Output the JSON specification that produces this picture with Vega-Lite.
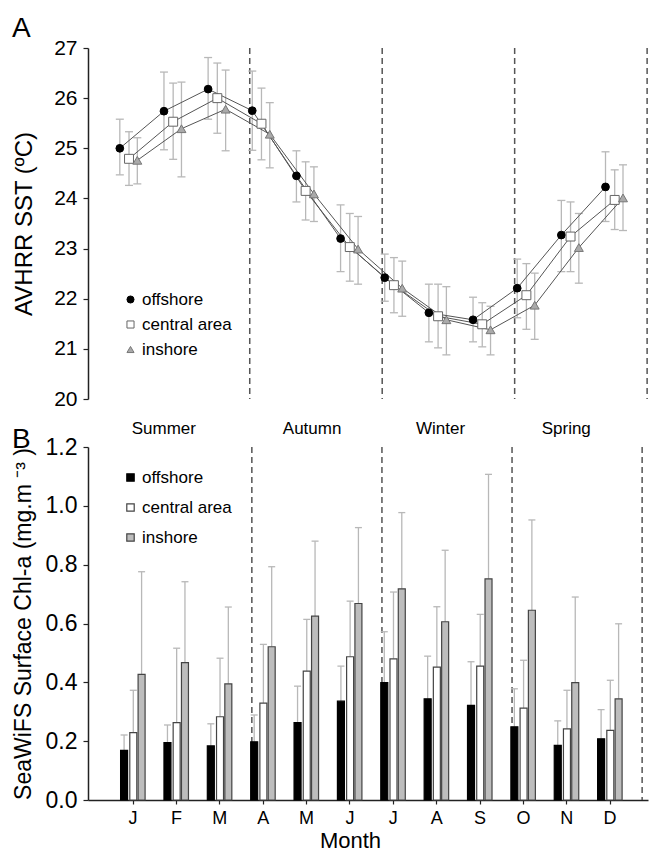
{
  "$schema": "https://vega.github.io/schema/vega-lite/v6.json",
  "background": "white",
  "padding": {"left": 12, "top": 15, "right": 3, "bottom": 0},
  "spacing": 11,
  "config": {
    "view": {"stroke": null},
    "font": "Liberation Sans",
    "axis": {"grid": false, "domainColor": "#222", "tickColor": "#222", "labelColor": "black", "titleColor": "black", "labelFont": "Liberation Sans", "titleFont": "Liberation Sans", "titleFontWeight": "normal", "domainWidth": 1.5, "tickWidth": 1.2},
    "legend": {"labelFont": "Liberation Sans", "labelFontSize": 17, "labelColor": "black"},
    "title": {"font": "Liberation Sans", "fontWeight": "normal", "color": "black"}
  },
  "datasets": {
    "sst": [
      {"month": 1, "site": "offshore", "mean": 25.00, "lo": 24.47, "hi": 25.58},
      {"month": 2, "site": "offshore", "mean": 25.74, "lo": 24.97, "hi": 26.52},
      {"month": 3, "site": "offshore", "mean": 26.18, "lo": 25.58, "hi": 26.81},
      {"month": 4, "site": "offshore", "mean": 25.75, "lo": 24.96, "hi": 26.54},
      {"month": 5, "site": "offshore", "mean": 24.45, "lo": 23.93, "hi": 24.95},
      {"month": 6, "site": "offshore", "mean": 23.20, "lo": 22.54, "hi": 23.87},
      {"month": 7, "site": "offshore", "mean": 22.42, "lo": 21.95, "hi": 22.89},
      {"month": 8, "site": "offshore", "mean": 21.72, "lo": 21.14, "hi": 22.29},
      {"month": 9, "site": "offshore", "mean": 21.58, "lo": 21.14, "hi": 22.03},
      {"month": 10, "site": "offshore", "mean": 22.21, "lo": 21.62, "hi": 22.79},
      {"month": 11, "site": "offshore", "mean": 23.27, "lo": 22.54, "hi": 23.96},
      {"month": 12, "site": "offshore", "mean": 24.23, "lo": 23.54, "hi": 24.93},
      {"month": 1, "site": "central area", "mean": 24.79, "lo": 24.26, "hi": 25.33},
      {"month": 2, "site": "central area", "mean": 25.53, "lo": 24.78, "hi": 26.30},
      {"month": 3, "site": "central area", "mean": 26.00, "lo": 25.30, "hi": 26.70},
      {"month": 4, "site": "central area", "mean": 25.49, "lo": 24.77, "hi": 26.20},
      {"month": 5, "site": "central area", "mean": 24.15, "lo": 23.57, "hi": 24.73},
      {"month": 6, "site": "central area", "mean": 23.03, "lo": 22.35, "hi": 23.70},
      {"month": 7, "site": "central area", "mean": 22.27, "lo": 21.72, "hi": 22.82},
      {"month": 8, "site": "central area", "mean": 21.65, "lo": 21.02, "hi": 22.29},
      {"month": 9, "site": "central area", "mean": 21.49, "lo": 21.04, "hi": 21.92},
      {"month": 10, "site": "central area", "mean": 22.07, "lo": 21.39, "hi": 22.70},
      {"month": 11, "site": "central area", "mean": 23.24, "lo": 22.54, "hi": 23.93},
      {"month": 12, "site": "central area", "mean": 23.97, "lo": 23.38, "hi": 24.57},
      {"month": 1, "site": "inshore", "mean": 24.76, "lo": 24.29, "hi": 25.21},
      {"month": 2, "site": "inshore", "mean": 25.39, "lo": 24.43, "hi": 26.32},
      {"month": 3, "site": "inshore", "mean": 25.78, "lo": 24.95, "hi": 26.56},
      {"month": 4, "site": "inshore", "mean": 25.28, "lo": 24.61, "hi": 25.91},
      {"month": 5, "site": "inshore", "mean": 24.09, "lo": 23.54, "hi": 24.63},
      {"month": 6, "site": "inshore", "mean": 22.99, "lo": 22.29, "hi": 23.64},
      {"month": 7, "site": "inshore", "mean": 22.21, "lo": 21.65, "hi": 22.75},
      {"month": 8, "site": "inshore", "mean": 21.58, "lo": 20.88, "hi": 22.24},
      {"month": 9, "site": "inshore", "mean": 21.38, "lo": 20.88, "hi": 21.85},
      {"month": 10, "site": "inshore", "mean": 21.87, "lo": 21.19, "hi": 22.51},
      {"month": 11, "site": "inshore", "mean": 23.02, "lo": 22.31, "hi": 23.70},
      {"month": 12, "site": "inshore", "mean": 24.01, "lo": 23.36, "hi": 24.67}
    ],
    "chl": [
      {"month": 1, "site": "offshore", "mean": 0.169, "hi": 0.221},
      {"month": 2, "site": "offshore", "mean": 0.195, "hi": 0.255},
      {"month": 3, "site": "offshore", "mean": 0.184, "hi": 0.259},
      {"month": 4, "site": "offshore", "mean": 0.198, "hi": 0.289},
      {"month": 5, "site": "offshore", "mean": 0.263, "hi": 0.387},
      {"month": 6, "site": "offshore", "mean": 0.336, "hi": 0.455},
      {"month": 7, "site": "offshore", "mean": 0.399, "hi": 0.572},
      {"month": 8, "site": "offshore", "mean": 0.344, "hi": 0.489},
      {"month": 9, "site": "offshore", "mean": 0.322, "hi": 0.470},
      {"month": 10, "site": "offshore", "mean": 0.249, "hi": 0.378},
      {"month": 11, "site": "offshore", "mean": 0.186, "hi": 0.269},
      {"month": 12, "site": "offshore", "mean": 0.208, "hi": 0.307},
      {"month": 1, "site": "central area", "mean": 0.229, "hi": 0.373},
      {"month": 2, "site": "central area", "mean": 0.263, "hi": 0.516},
      {"month": 3, "site": "central area", "mean": 0.283, "hi": 0.482},
      {"month": 4, "site": "central area", "mean": 0.329, "hi": 0.529},
      {"month": 5, "site": "central area", "mean": 0.438, "hi": 0.614},
      {"month": 6, "site": "central area", "mean": 0.487, "hi": 0.676},
      {"month": 7, "site": "central area", "mean": 0.480, "hi": 0.707},
      {"month": 8, "site": "central area", "mean": 0.452, "hi": 0.657},
      {"month": 9, "site": "central area", "mean": 0.455, "hi": 0.631},
      {"month": 10, "site": "central area", "mean": 0.312, "hi": 0.475},
      {"month": 11, "site": "central area", "mean": 0.242, "hi": 0.373},
      {"month": 12, "site": "central area", "mean": 0.237, "hi": 0.407},
      {"month": 1, "site": "inshore", "mean": 0.427, "hi": 0.776},
      {"month": 2, "site": "inshore", "mean": 0.467, "hi": 0.742},
      {"month": 3, "site": "inshore", "mean": 0.395, "hi": 0.656},
      {"month": 4, "site": "inshore", "mean": 0.521, "hi": 0.793},
      {"month": 5, "site": "inshore", "mean": 0.625, "hi": 0.880},
      {"month": 6, "site": "inshore", "mean": 0.668, "hi": 0.926},
      {"month": 7, "site": "inshore", "mean": 0.718, "hi": 0.977},
      {"month": 8, "site": "inshore", "mean": 0.606, "hi": 0.849},
      {"month": 9, "site": "inshore", "mean": 0.752, "hi": 1.107},
      {"month": 10, "site": "inshore", "mean": 0.645, "hi": 0.952},
      {"month": 11, "site": "inshore", "mean": 0.399, "hi": 0.690},
      {"month": 12, "site": "inshore", "mean": 0.344, "hi": 0.599}
    ],
    "bounds": [{"b": 3.75}, {"b": 6.75}, {"b": 9.75}, {"b": 12.75}],
    "seasons": [
      {"season": "Summer", "month": 1.72},
      {"season": "Autumn", "month": 5.14},
      {"season": "Winter", "month": 8.1},
      {"season": "Spring", "month": 11.0}
    ]
  },
  "vconcat": [
    {
      "width": 560,
      "height": 351,
      "title": {"text": "A", "anchor": "start", "frame": "group", "dx": -76, "fontSize": 28, "offset": -6},
      "data": {"name": "sst"},
      "layer": [
        {
          "data": {"name": "bounds"},
          "mark": {"type": "rule", "strokeDash": [6, 4], "color": "#555", "strokeWidth": 1.5},
          "encoding": {"x": {"field": "b", "type": "quantitative", "scale": {"domain": [0.087, 12.77], "nice": false, "zero": false}, "axis": null}}
        },
        {
          "transform": [{"filter": "datum.site == 'offshore'"}],
          "mark": {"type": "rule", "color": "#b8b8b8", "strokeWidth": 1.3, "xOffset": -8.5},
          "encoding": {
            "x": {"field": "month", "type": "quantitative"},
            "y": {"field": "lo", "type": "quantitative", "scale": {"domain": [20, 27], "nice": false, "zero": false},
              "axis": {"title": "AVHRR SST (ºC)", "titleFontSize": 24, "titlePadding": 17, "labelFontSize": 21, "labelPadding": 6, "tickSize": 5,
                "values": [20, 20.5, 21, 21.5, 22, 22.5, 23, 23.5, 24, 24.5, 25, 25.5, 26, 26.5, 27],
                "labelExpr": "datum.value % 1 == 0 ? datum.label : ''"}},
            "y2": {"field": "hi"}
          }
        },
        {
          "transform": [{"filter": "datum.site == 'central area'"}],
          "mark": {"type": "rule", "color": "#b8b8b8", "strokeWidth": 1.3, "xOffset": 0.7},
          "encoding": {"x": {"field": "month", "type": "quantitative"}, "y": {"field": "lo", "type": "quantitative"}, "y2": {"field": "hi"}}
        },
        {
          "transform": [{"filter": "datum.site == 'inshore'"}],
          "mark": {"type": "rule", "color": "#b8b8b8", "strokeWidth": 1.3, "xOffset": 9},
          "encoding": {"x": {"field": "month", "type": "quantitative"}, "y": {"field": "lo", "type": "quantitative"}, "y2": {"field": "hi"}}
        },
        {
          "transform": [{"filter": "datum.site == 'offshore'"}, {"fold": ["lo", "hi"], "as": ["k", "v"]}],
          "mark": {"type": "tick", "orient": "horizontal", "color": "#b8b8b8", "size": 8, "thickness": 1.3, "opacity": 1, "xOffset": -8.5},
          "encoding": {"x": {"field": "month", "type": "quantitative"}, "y": {"field": "v", "type": "quantitative"}}
        },
        {
          "transform": [{"filter": "datum.site == 'central area'"}, {"fold": ["lo", "hi"], "as": ["k", "v"]}],
          "mark": {"type": "tick", "orient": "horizontal", "color": "#b8b8b8", "size": 8, "thickness": 1.3, "opacity": 1, "xOffset": 0.7},
          "encoding": {"x": {"field": "month", "type": "quantitative"}, "y": {"field": "v", "type": "quantitative"}}
        },
        {
          "transform": [{"filter": "datum.site == 'inshore'"}, {"fold": ["lo", "hi"], "as": ["k", "v"]}],
          "mark": {"type": "tick", "orient": "horizontal", "color": "#b8b8b8", "size": 8, "thickness": 1.3, "opacity": 1, "xOffset": 9},
          "encoding": {"x": {"field": "month", "type": "quantitative"}, "y": {"field": "v", "type": "quantitative"}}
        },
        {
          "transform": [{"filter": "datum.site == 'offshore'"}],
          "mark": {"type": "line", "color": "#555", "strokeWidth": 1, "xOffset": -8.5},
          "encoding": {"x": {"field": "month", "type": "quantitative"}, "y": {"field": "mean", "type": "quantitative"}}
        },
        {
          "transform": [{"filter": "datum.site == 'central area'"}],
          "mark": {"type": "line", "color": "#555", "strokeWidth": 1, "xOffset": 0.7},
          "encoding": {"x": {"field": "month", "type": "quantitative"}, "y": {"field": "mean", "type": "quantitative"}}
        },
        {
          "transform": [{"filter": "datum.site == 'inshore'"}],
          "mark": {"type": "line", "color": "#555", "strokeWidth": 1, "xOffset": 9},
          "encoding": {"x": {"field": "month", "type": "quantitative"}, "y": {"field": "mean", "type": "quantitative"}}
        },
        {
          "transform": [{"filter": "datum.site == 'offshore'"}],
          "mark": {"type": "point", "filled": true, "opacity": 1, "size": 60, "strokeWidth": 1, "xOffset": -8.5},
          "encoding": {
            "x": {"field": "month", "type": "quantitative"},
            "y": {"field": "mean", "type": "quantitative"},
            "shape": {"field": "site", "type": "nominal", "scale": {"domain": ["offshore", "central area", "inshore"], "range": ["circle", "square", "triangle-up"]},
              "legend": {"title": null, "orient": "none", "legendX": 34, "legendY": 243, "symbolSize": 50, "rowPadding": 7, "labelOffset": 3, "symbolStrokeWidth": 1}},
            "fill": {"field": "site", "type": "nominal", "scale": {"domain": ["offshore", "central area", "inshore"], "range": ["black", "white", "#aaaaaa"]}, "legend": {"title": null, "orient": "none", "legendX": 34, "legendY": 243, "symbolSize": 50, "rowPadding": 7, "labelOffset": 3, "symbolStrokeWidth": 1}},
            "stroke": {"field": "site", "type": "nominal", "scale": {"domain": ["offshore", "central area", "inshore"], "range": ["black", "#666666", "#777777"]}, "legend": {"title": null, "orient": "none", "legendX": 34, "legendY": 243, "symbolSize": 50, "rowPadding": 7, "labelOffset": 3, "symbolStrokeWidth": 1}}
          }
        },
        {
          "transform": [{"filter": "datum.site == 'central area'"}],
          "mark": {"type": "point", "filled": true, "opacity": 1, "size": 80, "strokeWidth": 1, "xOffset": 0.7},
          "encoding": {
            "x": {"field": "month", "type": "quantitative"},
            "y": {"field": "mean", "type": "quantitative"},
            "shape": {"field": "site", "type": "nominal"},
            "fill": {"field": "site", "type": "nominal"},
            "stroke": {"field": "site", "type": "nominal"}
          }
        },
        {
          "transform": [{"filter": "datum.site == 'inshore'"}],
          "mark": {"type": "point", "filled": true, "opacity": 1, "size": 80, "strokeWidth": 1, "xOffset": 9},
          "encoding": {
            "x": {"field": "month", "type": "quantitative"},
            "y": {"field": "mean", "type": "quantitative"},
            "shape": {"field": "site", "type": "nominal"},
            "fill": {"field": "site", "type": "nominal"},
            "stroke": {"field": "site", "type": "nominal"}
          }
        }
      ]
    },
    {
      "width": 560,
      "height": 353,
      "title": {"text": "B", "anchor": "start", "frame": "group", "dx": -76, "fontSize": 28, "offset": -34},
      "data": {"name": "chl"},
      "layer": [
        {
          "data": {"name": "bounds"},
          "mark": {"type": "rule", "strokeDash": [6, 4], "color": "#555", "strokeWidth": 1.5},
          "encoding": {"x": {"field": "b", "type": "quantitative", "scale": {"domain": [0.087, 12.77], "nice": false, "zero": false},
            "axis": {"title": "Month", "titleFontSize": 22, "titlePadding": 3, "titleX": 262, "labelFontSize": 18, "labelPadding": 5, "tickSize": 4,
              "values": [1, 2, 3, 4, 5, 6, 7, 8, 9, 10, 11, 12],
              "labelExpr": "['J','F','M','A','M','J','J','A','S','O','N','D'][datum.value - 1]"}}}
        },
        {
          "data": {"name": "seasons"},
          "mark": {"type": "text", "fontSize": 17, "font": "Liberation Sans", "color": "black"},
          "encoding": {"x": {"field": "month", "type": "quantitative"}, "y": {"datum": 1.26, "type": "quantitative"}, "text": {"field": "season"}}
        },
        {
          "transform": [{"filter": "datum.site == 'offshore'"}],
          "mark": {"type": "rule", "color": "#b8b8b8", "strokeWidth": 1.3, "xOffset": -8.5},
          "encoding": {
            "x": {"field": "month", "type": "quantitative"},
            "y": {"field": "mean", "type": "quantitative", "scale": {"domain": [0, 1.2], "nice": false, "zero": true},
              "axis": {"title": "SeaWiFS Surface Chl-a (mg.m ⁻³ )", "titleFontSize": 23, "titlePadding": 10, "labelFontSize": 23, "labelPadding": 6, "tickSize": 5,
                "values": [0, 0.1, 0.2, 0.3, 0.4, 0.5, 0.6, 0.7, 0.8, 0.9, 1.0, 1.1, 1.2],
                "labelExpr": "round(datum.value * 10) % 2 == 0 ? format(datum.value, '.1f') : ''"}},
            "y2": {"field": "hi"}
          }
        },
        {
          "transform": [{"filter": "datum.site == 'central area'"}],
          "mark": {"type": "rule", "color": "#b8b8b8", "strokeWidth": 1.3, "xOffset": 0.7},
          "encoding": {"x": {"field": "month", "type": "quantitative"}, "y": {"field": "mean", "type": "quantitative"}, "y2": {"field": "hi"}}
        },
        {
          "transform": [{"filter": "datum.site == 'inshore'"}],
          "mark": {"type": "rule", "color": "#b8b8b8", "strokeWidth": 1.3, "xOffset": 9},
          "encoding": {"x": {"field": "month", "type": "quantitative"}, "y": {"field": "mean", "type": "quantitative"}, "y2": {"field": "hi"}}
        },
        {
          "transform": [{"filter": "datum.site == 'offshore'"}],
          "mark": {"type": "tick", "orient": "horizontal", "color": "#b8b8b8", "size": 7, "thickness": 1.3, "opacity": 1, "xOffset": -8.5},
          "encoding": {"x": {"field": "month", "type": "quantitative"}, "y": {"field": "hi", "type": "quantitative"}}
        },
        {
          "transform": [{"filter": "datum.site == 'central area'"}],
          "mark": {"type": "tick", "orient": "horizontal", "color": "#b8b8b8", "size": 7, "thickness": 1.3, "opacity": 1, "xOffset": 0.7},
          "encoding": {"x": {"field": "month", "type": "quantitative"}, "y": {"field": "hi", "type": "quantitative"}}
        },
        {
          "transform": [{"filter": "datum.site == 'inshore'"}],
          "mark": {"type": "tick", "orient": "horizontal", "color": "#b8b8b8", "size": 7, "thickness": 1.3, "opacity": 1, "xOffset": 9},
          "encoding": {"x": {"field": "month", "type": "quantitative"}, "y": {"field": "hi", "type": "quantitative"}}
        },
        {
          "transform": [{"filter": "datum.site == 'offshore'"}],
          "mark": {"type": "bar", "orient": "vertical", "width": 7, "strokeWidth": 1.2, "xOffset": -8.5},
          "encoding": {
            "x": {"field": "month", "type": "quantitative"},
            "y": {"field": "mean", "type": "quantitative", "stack": null},
            "fill": {"field": "site", "type": "nominal", "scale": {"domain": ["offshore", "central area", "inshore"], "range": ["black", "white", "#bdbdbd"]},
              "legend": {"title": null, "orient": "none", "legendX": 34, "legendY": 22, "symbolType": "square", "symbolSize": 55, "rowPadding": 12, "labelOffset": 3, "symbolStrokeWidth": 1.2}},
            "stroke": {"field": "site", "type": "nominal", "scale": {"domain": ["offshore", "central area", "inshore"], "range": ["black", "#444444", "#444444"]},
              "legend": {"title": null, "orient": "none", "legendX": 34, "legendY": 22, "symbolType": "square", "symbolSize": 55, "rowPadding": 12, "labelOffset": 3, "symbolStrokeWidth": 1.2}}
          }
        },
        {
          "transform": [{"filter": "datum.site == 'central area'"}],
          "mark": {"type": "bar", "orient": "vertical", "width": 7, "strokeWidth": 1.2, "xOffset": 0.7},
          "encoding": {
            "x": {"field": "month", "type": "quantitative"},
            "y": {"field": "mean", "type": "quantitative", "stack": null},
            "fill": {"field": "site", "type": "nominal"},
            "stroke": {"field": "site", "type": "nominal"}
          }
        },
        {
          "transform": [{"filter": "datum.site == 'inshore'"}],
          "mark": {"type": "bar", "orient": "vertical", "width": 7, "strokeWidth": 1.2, "xOffset": 9},
          "encoding": {
            "x": {"field": "month", "type": "quantitative"},
            "y": {"field": "mean", "type": "quantitative", "stack": null},
            "fill": {"field": "site", "type": "nominal"},
            "stroke": {"field": "site", "type": "nominal"}
          }
        }
      ]
    }
  ],
  "resolve": {
    "scale": {"fill": "independent", "stroke": "independent", "shape": "independent"},
    "legend": {"fill": "independent", "stroke": "independent", "shape": "independent"}
  }
}
